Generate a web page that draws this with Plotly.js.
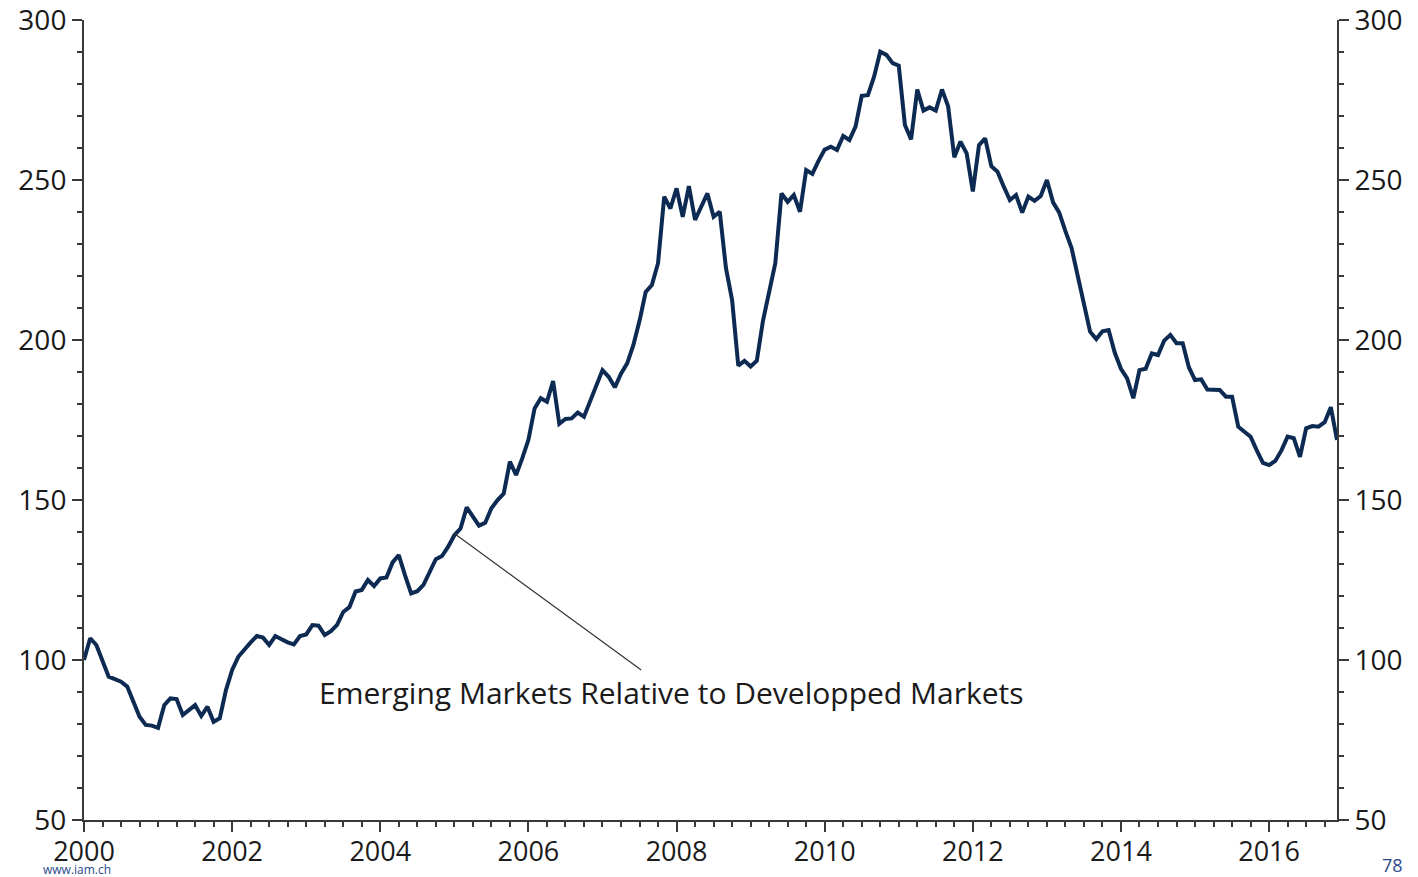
<!DOCTYPE html>
<html>
<head>
<meta charset="utf-8">
<script src="https://cdn.plot.ly/plotly-3.0.1.min.js"></script>
<style>html,body{margin:0;padding:0;background:#fff;}#chart{width:1418px;height:877px;}</style>
</head>
<body>
<div id="chart"></div>
<script>
// Monthly data, Jan 2000 .. Dec 2016
const startYear = 2000;
const seriesName = "Emerging Markets Relative to Developped Markets";
const emVsDm = [
  100, 106.8, 104.7, 99.5, 94.8, 94, 93.2, 91.7, 87, 82.3, 79.7, 79.5,
  78.8, 85.9, 88, 87.8, 82.8, 84.5, 85.9, 82.5, 85.4, 80.7, 81.8, 90.6,
  96.9, 101, 103.5, 105.5, 107.5, 107, 104.7, 107.5, 106.5, 105.5, 104.9, 107.5,
  108, 110.9, 110.7, 107.8, 109, 111, 115, 116.5, 121.4, 121.9, 125, 123.1,
  125.5, 125.8, 130.5, 132.8, 126.5, 120.8, 121.5, 123.5, 127.5, 131.5, 132.5, 135.4,
  139, 141.1, 147.7, 145, 142, 142.9, 147.4, 150, 152, 162, 157.8, 163,
  168.8, 178.6, 181.8, 180.7, 187.2, 173.8, 175.3, 175.5, 177.3, 176, 180.7, 186,
  190.6, 188.5, 185.2, 189.5, 192.7, 198.4, 206, 215, 217.2, 224, 244.8, 241.1,
  247.4, 238.5, 248.1, 237.5, 242, 245.8, 238.5, 240.1, 222.5, 212.5, 192, 193.5,
  191.7, 193.5, 206, 214.5, 224, 245.8, 243.2, 245.3, 240.1, 253.1, 251.9, 256,
  259.5, 260.4, 259.4, 263.75, 262.5, 266.7, 276.3, 276.5, 282.3, 290.1, 289.1, 286.5,
  285.7, 267.2, 262.7, 278.3, 271.7, 272.7, 271.7, 278.3, 273, 257.1, 262, 258.3,
  246.4, 260.9, 263, 254.3, 252.6, 248, 243.75, 245.3, 239.8, 244.8, 243.5, 245,
  250, 243, 239.8, 234, 228.7, 220, 211.5, 202.6, 200.3, 202.7, 203.1, 196,
  191, 188, 181.8, 190.6, 191, 195.8, 195.3, 199.8, 201.6, 199, 199, 191.5,
  187.5, 187.7, 184.5, 184.3, 184.4, 182.3, 182.3, 172.9, 171.3, 169.8, 165.5, 161.6,
  160.9, 162.2, 165.5, 169.8, 169.3, 163.5, 172.4, 173.1, 172.9, 174.3, 179, 168.75
];
const dates = emVsDm.map((v, i) => startYear + i / 12);
const xTickVals = [2000, 2002, 2004, 2006, 2008, 2010, 2012, 2014, 2016];
const xTickText = ["2000", "2002", "2004", "2006", "2008", "2010", "2012", "2014", "2016"];
const yTickVals = [50, 100, 150, 200, 250, 300];
const yTickText = ["50", "100", "150", "200", "250", "300"];
const annoPoint = {x: 2005.0, y: 139.5};
const annoText = {x: 2007.93, y: 90};

const lineColor = "#0c2a52";
const axisColor = "#3a3a3a";
const fontFam = "'Open Sans', 'DejaVu Sans', sans-serif";

const traces = [
  {x: dates, y: emVsDm, type: "scatter", mode: "lines", name: seriesName,
   line: {color: lineColor, width: 4}, hoverinfo: "x+y"},
  {x: dates, y: emVsDm, type: "scatter", mode: "lines", yaxis: "y2",
   line: {color: "rgba(0,0,0,0)", width: 0}, hoverinfo: "skip", showlegend: false}
];

const yCommon = {
  range: [50, 300], tickvals: yTickVals, ticktext: yTickText,
  showgrid: false, zeroline: false, showline: true, linecolor: axisColor, linewidth: 2,
  ticks: "outside", ticklen: 10, tickwidth: 2, tickcolor: axisColor,
  tickfont: {family: fontFam, size: 28, color: "#1a1a1a"},
  ticklabeloverflow: "allow",
  minor: {dtick: 10, ticks: "outside", ticklen: 5, tickwidth: 2, tickcolor: axisColor, showgrid: false},
  fixedrange: true
};

const layout = {
  width: 1418, height: 877,
  margin: {l: 84, r: 81, t: 20, b: 57},
  paper_bgcolor: "#ffffff", plot_bgcolor: "#ffffff",
  showlegend: false,
  xaxis: {
    range: [2000, 2000 + 203 / 12], tickvals: xTickVals, ticktext: xTickText,
    showgrid: false, zeroline: false, showline: true, linecolor: axisColor, linewidth: 2,
    ticks: "outside", ticklen: 10, tickwidth: 2, tickcolor: axisColor,
    tickfont: {family: fontFam, size: 27, color: "#1a1a1a"},
    ticklabelstandoff: -3,
    ticklabeloverflow: "allow",
    minor: {dtick: 0.25, tick0: 2000, ticks: "outside", ticklen: 5, tickwidth: 2, tickcolor: axisColor, showgrid: false},
    fixedrange: true
  },
  yaxis: Object.assign({}, yCommon, {side: "left"}),
  yaxis2: Object.assign({}, yCommon, {side: "right", overlaying: "y", matches: "y"}),
  annotations: [
    {x: annoPoint.x, y: annoPoint.y, xref: "x", yref: "y",
     ax: annoText.x, ay: annoText.y, axref: "x", ayref: "y",
     text: seriesName, showarrow: true, arrowhead: 0, arrowwidth: 1.2, arrowcolor: "#333333",
     font: {family: fontFam, size: 30, color: "#1a1a1a"}},
    {x: 0.0, y: 0, xref: "paper", yref: "paper", xshift: -42, yshift: -59,
     xanchor: "left", yanchor: "bottom", text: "www.iam.ch", showarrow: false,
     borderpad: 0,
     font: {family: fontFam, size: 12, color: "#2a4a8c"}},
    {x: 1, y: 0, xref: "paper", yref: "paper", xshift: 55, yshift: -58,
     xanchor: "center", yanchor: "bottom", text: "78", showarrow: false,
     borderpad: 0,
     font: {family: fontFam, size: 18, color: "#2a4a8c"}}
  ]
};

Plotly.newPlot("chart", traces, layout, {displayModeBar: false, staticPlot: true});
</script>
</body>
</html>
